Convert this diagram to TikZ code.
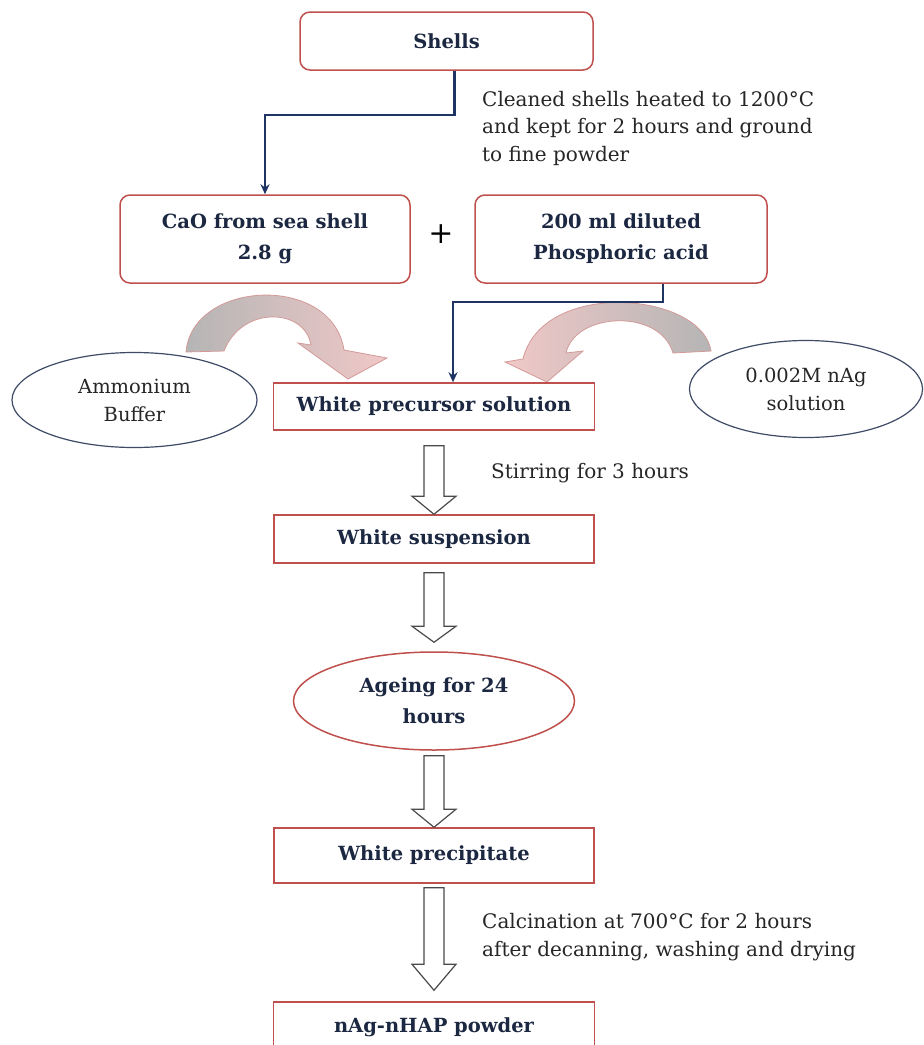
\documentclass[tikz,border=0pt]{standalone}
\usepackage{fontspec}
\setmainfont{DejaVu Serif}
\usepackage{tikz}
\usetikzlibrary{shapes.geometric, arrows.meta, positioning, calc}
\usepackage{xcolor}
\definecolor{boxred}{HTML}{C0504D}
\definecolor{navytext}{HTML}{1C2841}
\definecolor{linknavy}{HTML}{1F3462}
\definecolor{slate}{HTML}{3E4A66}
\definecolor{arrowgrey}{HTML}{4A4A4A}
\definecolor{ribbongrey}{HTML}{B5B5B5}
\definecolor{ribbonpink}{HTML}{F0C8C7}
\definecolor{ribbonedge}{HTML}{D49A98}

\begin{document}
\begin{tikzpicture}[x=1pt, y=-1pt,
  roundbox/.style={rectangle, rounded corners=10pt, draw=boxred, line width=1.5pt, fill=white, text=navytext, align=center, inner sep=0pt, font=\fontsize{19.5}{31}\selectfont\bfseries},
  flatbox/.style={rectangle, draw=boxred, line width=1.5pt, fill=white, text=navytext, inner sep=0pt, font=\fontsize{19.5}{25}\selectfont\bfseries},
  reagent/.style={ellipse, draw=slate, line width=1.2pt, fill=white, align=center, inner sep=0pt, text=black!85, font=\fontsize{19.5}{28}\selectfont},
  note/.style={anchor=west, align=left, inner sep=0pt, text=black!85, font=\fontsize{20}{27.5}\selectfont},
  link/.style={-{Stealth[length=10pt, width=9pt]}, line width=2.2pt, draw=linknavy},
  hollow/.style={draw=arrowgrey, fill=white, line width=1.2pt},
  ribbon/.style={draw=ribbonedge, line width=0.8pt}
]
\path[fill=white, use as bounding box] (0,0) rectangle (924,1045);

\shade[ribbon, left color=ribbongrey, right color=ribbonpink] (186,352) .. controls (192,280) and (332,273) .. (344,350) -- (387,358) -- (348,379) -- (298,343) -- (311,345) .. controls (305,308) and (242,305) .. (224,351) -- cycle;
\shade[ribbon, left color=ribbonpink, right color=ribbongrey] (711,351) .. controls (702,292) and (543,278) .. (523,359) -- (505,362) -- (547,382) -- (583,351) -- (566,353) .. controls (575,312) and (660,308) .. (673,353) -- cycle;

\node[roundbox, minimum width=293, minimum height=58] (shells) at (446.5,41) {Shells};
\node[roundbox, minimum width=290, minimum height=88] (cao) at (265,239) {CaO from sea shell\\2.8 g};
\node[roundbox, minimum width=292, minimum height=88] (acid) at (621,239) {200 ml diluted\\Phosphoric acid};
\node[font=\fontsize{30}{30}\selectfont] (plus) at (441,234) {+};
\node[flatbox, minimum width=321, minimum height=47] (prec) at (434,406.5) {White precursor solution};
\node[flatbox, minimum width=320, minimum height=48] (susp) at (434,539) {White suspension};
\node[ellipse, draw=boxred, line width=1.5pt, fill=white, text=navytext, align=center, inner sep=0pt, font=\fontsize{19.5}{31}\selectfont\bfseries, minimum width=281, minimum height=98] (age) at (434,701) {Ageing for 24\\hours};
\node[flatbox, minimum width=320, minimum height=55] (pptt) at (434,855.5) {White precipitate};
\node[flatbox, minimum width=321, minimum height=50] (powder) at (434,1027) {nAg-nHAP powder};
\node[reagent, minimum width=245, minimum height=95] (buffer) at (134.5,400) {Ammonium\\Buffer};
\node[reagent, minimum width=233, minimum height=97] (silver) at (806,389) {0.002M nAg\\solution};

\node[note] (heat) at (482,128) {Cleaned shells heated to 1200°C\\and kept for 2 hours and ground\\to fine powder};
\node[note] (stir) at (491,473) {Stirring for 3 hours};
\node[note] (calc) at (482,937) {Calcination at 700°C for 2 hours\\after decanning, washing and drying};

\draw[link] ([xshift=8pt]shells.south) -- ++(0,44) -| (cao.north);
\draw[link] ([xshift=42pt]acid.south) -- ++(0,18) -| ([xshift=19pt]prec.north);

\foreach \a/\b/\ga/\gb/\hl in {prec/susp/15/0/18, susp/age/9/9/16, age/pptt/5/0/18, pptt/powder/4/11/26}
  \draw[hollow] ($(\a.south)+(-10,\ga)$) -- ($(\a.south)+(10,\ga)$) -- ($(\b.north)+(10,-\gb-\hl)$) -- ($(\b.north)+(22,-\gb-\hl)$) -- ($(\b.north)+(0,-\gb)$) -- ($(\b.north)+(-22,-\gb-\hl)$) -- ($(\b.north)+(-10,-\gb-\hl)$) -- cycle;
\end{tikzpicture}
\end{document}
